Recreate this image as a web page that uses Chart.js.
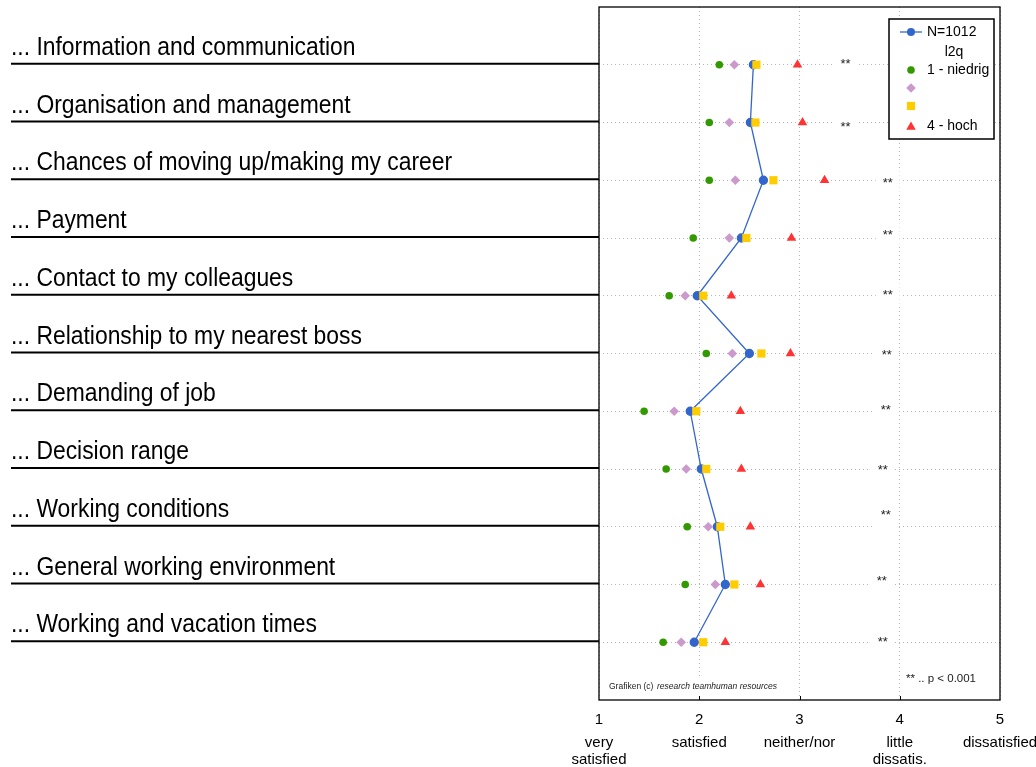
<!DOCTYPE html>
<html>
<head>
<meta charset="utf-8">
<script src="https://cdn.jsdelivr.net/npm/chart.js@4/dist/chart.umd.min.js"></script>
<style>
  html, body { margin: 0; padding: 0; background: #fff; }
  #wrap { width: 1036px; height: 767px; position: relative; }
</style>
</head>
<body>
<div id="wrap"><canvas id="chart"></canvas></div>
<script>
const FONT = "'Liberation Sans', Arial, sans-serif";

// items (top to bottom)
const items = [
  "... Information and communication",
  "... Organisation and management",
  "... Chances of moving up/making my career",
  "... Payment",
  "... Contact to my colleagues",
  "... Relationship to my nearest boss",
  "... Demanding of job",
  "... Decision range",
  "... Working conditions",
  "... General working environment",
  "... Working and vacation times"
];

// means per group (1 = very satisfied ... 5 = dissatisfied)
const allValues  = [2.54, 2.51, 2.64, 2.42, 1.98, 2.50, 1.91, 2.02, 2.18, 2.26, 1.95];
const lowValues  = [2.20, 2.10, 2.10, 1.94, 1.70, 2.07, 1.45, 1.67, 1.88, 1.86, 1.64];
const q2Values   = [2.35, 2.30, 2.36, 2.30, 1.86, 2.33, 1.75, 1.87, 2.09, 2.16, 1.82];
const q3Values   = [2.57, 2.56, 2.74, 2.47, 2.04, 2.62, 1.97, 2.07, 2.21, 2.35, 2.04];
const highValues = [2.98, 3.03, 3.25, 2.92, 2.32, 2.91, 2.41, 2.42, 2.51, 2.61, 2.26];

// significance marks
const sigMarks = ["**", "**", "**", "**", "**", "**", "**", "**", "**", "**", "**"];
const sigX   = [3.46, 3.46, 3.88, 3.88, 3.88, 3.87, 3.86, 3.83, 3.86, 3.82, 3.83];
const sigRow = [0.99, 2.09, 3.05, 3.95, 4.99, 6.03, 6.98, 8.03, 8.81, 9.94, 11.0];

// x axis
const xTicks = [1, 2, 3, 4, 5];
const xWords = [["very", "satisfied"], ["satisfied"], ["neither/nor"], ["little", "dissatis."], ["dissatisfied"]];

const legendLabels = ["N=1012", "l2q", "1 - niedrig", "", "", "4 - hoch"];

const colBlue = "#3366cc", colGreen = "#339900", colLilac = "#cc99cc",
      colYellow = "#ffcc00", colRed = "#ff3333";

function pts(values) {
  return values.map((v, i) => ({ x: v, y: i + 1 }));
}

function marker(ctx, style, x, y, r, color) {
  ctx.fillStyle = color;
  ctx.beginPath();
  if (style === "circle") {
    ctx.arc(x, y, r, 0, Math.PI * 2);
  } else if (style === "rectRot") {
    ctx.moveTo(x, y - r); ctx.lineTo(x + r, y); ctx.lineTo(x, y + r); ctx.lineTo(x - r, y);
  } else if (style === "rect") {
    const s = r * Math.SQRT1_2;
    ctx.rect(x - s, y - s, 2 * s, 2 * s);
  } else {
    ctx.moveTo(x, y - r);
    ctx.lineTo(x + r * 0.866, y + r * 0.5);
    ctx.lineTo(x - r * 0.866, y + r * 0.5);
  }
  ctx.closePath();
  ctx.fill();
}

const decor = {
  id: "decor",
  beforeDatasetsDraw(chart) {
    const { ctx, chartArea: a, scales: { x, y } } = chart;
    ctx.save();
    // significance marks on white patches
    ctx.font = "13px " + FONT;
    ctx.textAlign = "center";
    ctx.textBaseline = "middle";
    sigMarks.forEach((m, i) => {
      const px = x.getPixelForValue(sigX[i]);
      const py = y.getPixelForValue(sigRow[i]);
      ctx.fillStyle = "#fff";
      ctx.fillRect(px - 12, py - 14, 24, 26);
      ctx.fillStyle = "#222";
      ctx.fillText(m, px, py);
    });
    // footnotes
    ctx.fillStyle = "#fff";
    ctx.fillRect(a.left + 6, a.bottom - 23, 178, 20);
    ctx.fillRect(a.right - 100, a.bottom - 38, 96, 30);
    ctx.textAlign = "left";
    ctx.fillStyle = "#222";
    ctx.font = "8.5px " + FONT;
    ctx.fillText("Grafiken (c)", a.left + 10, a.bottom - 13);
    ctx.font = "italic 8.5px " + FONT;
    ctx.fillText("research teamhuman resources", a.left + 58, a.bottom - 13);
    ctx.font = "11.5px " + FONT;
    ctx.fillText("** .. p < 0.001", a.right - 94, a.bottom - 21);
    // frame and inner ticks
    ctx.strokeStyle = "#000";
    ctx.lineWidth = 1.3;
    ctx.strokeRect(a.left, a.top, a.right - a.left, a.bottom - a.top);
    ctx.lineWidth = 1;
    xTicks.slice(1, -1).forEach(t => {
      const px = Math.round(x.getPixelForValue(t)) + 0.5;
      ctx.beginPath(); ctx.moveTo(px, a.bottom); ctx.lineTo(px, a.bottom - 4); ctx.stroke();
    });
    ctx.restore();
  },
  afterDraw(chart) {
    const { ctx, chartArea: a, scales: { x, y } } = chart;
    ctx.save();
    // item labels with underline
    items.forEach((t, i) => {
      const py = y.getPixelForValue(i + 1);
      ctx.fillStyle = "#000";
      ctx.font = "25px " + FONT;
      ctx.textAlign = "left";
      ctx.textBaseline = "alphabetic";
      ctx.save();
      ctx.translate(11, py - 10);
      ctx.scale(0.915, 1);
      ctx.fillText(t, 0, 0);
      ctx.restore();
      ctx.strokeStyle = "#000";
      ctx.lineWidth = 2;
      ctx.beginPath(); ctx.moveTo(11, py - 1); ctx.lineTo(a.left, py - 1); ctx.stroke();
    });
    // verbal x labels
    ctx.font = "15px " + FONT;
    ctx.textAlign = "center";
    ctx.fillStyle = "#000";
    xWords.forEach((w, i) => {
      const px = x.getPixelForValue(xTicks[i]);
      w.forEach((line, j) => ctx.fillText(line, px, a.bottom + 47 + j * 16.5));
    });
    // legend box
    const lx = a.right - 111, ly = a.top + 12;
    ctx.fillStyle = "#fff";
    ctx.fillRect(lx, ly, 105, 120);
    ctx.strokeStyle = "#000";
    ctx.lineWidth = 1.5;
    ctx.strokeRect(lx, ly, 105, 120);
    const mx = lx + 22, tx = lx + 38;
    const rowsY = [ly + 13, ly + 33, ly + 51, ly + 69, ly + 87, ly + 107];
    ctx.strokeStyle = colBlue;
    ctx.lineWidth = 1.3;
    ctx.beginPath(); ctx.moveTo(mx - 11, rowsY[0]); ctx.lineTo(mx + 11, rowsY[0]); ctx.stroke();
    marker(ctx, "circle", mx, rowsY[0], 4, colBlue);
    marker(ctx, "circle", mx, rowsY[2], 3.8, colGreen);
    marker(ctx, "rectRot", mx, rowsY[3], 4.8, colLilac);
    marker(ctx, "rect", mx, rowsY[4], 5.8, colYellow);
    marker(ctx, "triangle", mx, rowsY[5] + 1, 5.5, colRed);
    ctx.font = "14px " + FONT;
    ctx.fillStyle = "#000";
    ctx.textBaseline = "middle";
    ctx.textAlign = "left";
    legendLabels.forEach((l, i) => {
      if (!l) return;
      if (i === 1) {
        ctx.textAlign = "center";
        ctx.fillText(l, lx + 65, rowsY[i]);
        ctx.textAlign = "left";
      } else {
        ctx.fillText(l, tx, rowsY[i]);
      }
    });
    ctx.restore();
  }
};

const gridStyle = { color: "#b4b4b4", lineWidth: 1, drawTicks: false };
const borderStyle = { display: false, dash: [1, 3] };

new Chart(document.getElementById("chart"), {
  type: "line",
  data: {
    datasets: [
      { label: "N=1012", data: pts(allValues), borderColor: colBlue, backgroundColor: colBlue,
        borderWidth: 1.3, pointStyle: "circle", pointRadius: 4, showLine: true, order: 5 },
      { label: "1 - niedrig", data: pts(lowValues), borderColor: colGreen, backgroundColor: colGreen,
        pointStyle: "circle", pointRadius: 3.8, pointBorderWidth: 0, showLine: false, order: 4 },
      { label: "2", data: pts(q2Values), borderColor: colLilac, backgroundColor: colLilac,
        pointStyle: "rectRot", pointRadius: 4.8, pointBorderWidth: 0, showLine: false, order: 3 },
      { label: "3", data: pts(q3Values), borderColor: colYellow, backgroundColor: colYellow,
        pointStyle: "rect", pointRadius: 5.8, pointBorderWidth: 0, showLine: false, order: 1 },
      { label: "4 - hoch", data: pts(highValues), borderColor: colRed, backgroundColor: colRed,
        pointStyle: "triangle", pointRadius: 5.5, pointBorderWidth: 0, showLine: false, order: 2 }
    ]
  },
  options: {
    responsive: true,
    maintainAspectRatio: false,
    animation: false,
    layout: { padding: { left: 599, right: 36, top: 7, bottom: 37 } },
    plugins: { legend: { display: false }, tooltip: { enabled: false } },
    scales: {
      x: {
        type: "linear", min: 1, max: 5,
        afterBuildTicks: s => { s.ticks = xTicks.map(v => ({ value: v })); },
        afterFit: s => { s.height = 30; },
        ticks: { color: "#000", padding: 11, font: { size: 15, family: FONT } },
        grid: gridStyle,
        border: borderStyle
      },
      y: {
        type: "linear", min: 0, max: 12, reverse: true,
        afterBuildTicks: s => { s.ticks = items.map((_, i) => ({ value: i + 1 })); },
        afterFit: s => { s.width = 0; },
        ticks: { display: false },
        grid: gridStyle,
        border: borderStyle
      }
    }
  },
  plugins: [decor]
});
</script>
</body>
</html>
